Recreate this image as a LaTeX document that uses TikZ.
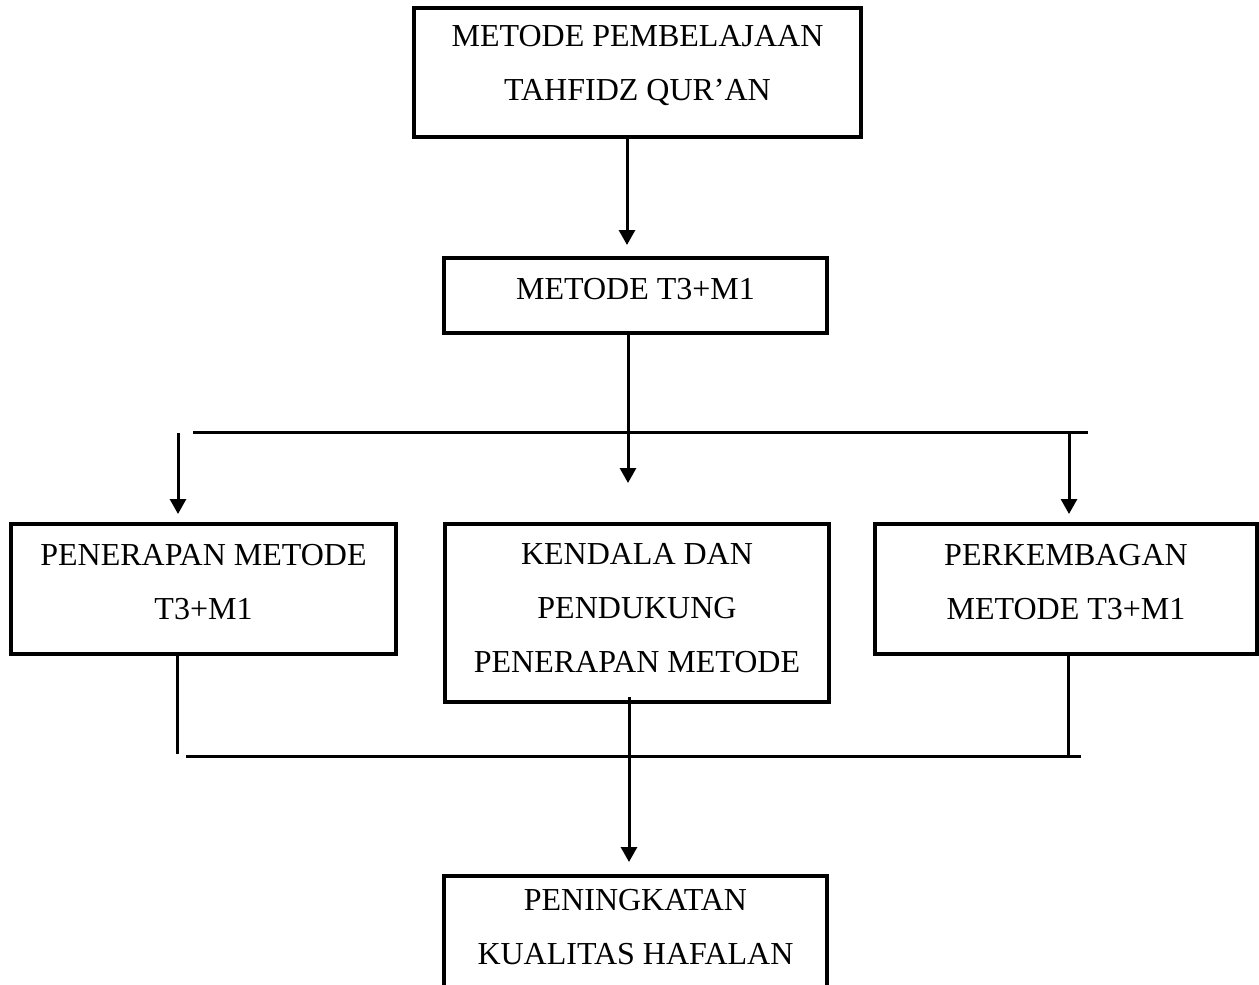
\documentclass[tikz,border=0pt]{standalone}
\usepackage{fontspec}
\setmainfont{Liberation Serif}
\usetikzlibrary{arrows.meta}
\newcommand{\lowpad}[1]{\rule[-#1pt]{0pt}{#1pt}}
\tikzset{
  box/.style={draw, line width=3.5pt, rectangle, align=center, inner sep=0pt,
    font=\fontsize{32}{54}\selectfont},
  ln/.style={line width=3pt},
  arr/.style={line width=3pt, -{Triangle[width=16pt,length=15pt]}}
}
\begin{document}
\begin{tikzpicture}[x=1pt,y=-1pt]
\useasboundingbox (0,0) rectangle (1259,985);
\clip (0,0) rectangle (1259,985);
\node[box, minimum width=447pt, minimum height=129pt] (top) at (637.5,72.5)
  {METODE PEMBELAJAAN\\TAHFIDZ QUR’AN\lowpad{19}};
\node[box, minimum width=383pt, minimum height=75pt] (mid) at (635.5,295.5)
  {METODE T3+M1\lowpad{14}};
\node[box, minimum width=385pt, minimum height=130pt] (L) at (203.5,589)
  {PENERAPAN METODE\\T3+M1\lowpad{14}};
\node[box, minimum width=384pt, minimum height=178pt] (C) at (637,613)
  {KENDALA DAN\\PENDUKUNG\\PENERAPAN METODE\lowpad{11}};
\node[box, minimum width=382pt, minimum height=130pt] (R) at (1066,589)
  {PERKEMBAGAN\\METODE T3+M1\lowpad{15}};
\node[box, minimum width=383pt, minimum height=116pt] (B) at (635.5,934)
  {PENINGKATAN\\KUALITAS HAFALAN\lowpad{14}};
% connector points
\coordinate (a1) at (627,245);
\coordinate (a2) at (628,483);
\coordinate (hL) at (193,432);
\coordinate (hR) at (1088,432);
\coordinate (la0) at (178,433);
\coordinate (la1) at (178,514);
\coordinate (ra0) at (1069,432);
\coordinate (ra1) at (1069,514);
\coordinate (lv) at (177,754);
\coordinate (rv) at (1068,755);
\coordinate (bL) at (186,756);
\coordinate (bR) at (1081,756);
\coordinate (mv0) at (629,697);
\coordinate (mv1) at (629,862);
% connectors
\draw[arr] (top.south -| a1) -- (a1);
\draw[arr] (mid.south -| a2) -- (a2);
\draw[ln] (hL) -- (hR);
\draw[arr] (la0) -- (la1);
\draw[arr] (ra0) -- (ra1);
\draw[ln] (L.south -| lv) -- (lv);
\draw[ln] (R.south -| rv) -- (rv);
\draw[ln] (bL) -- (bR);
\draw[arr] (mv0) -- (mv1);
\end{tikzpicture}
\end{document}
